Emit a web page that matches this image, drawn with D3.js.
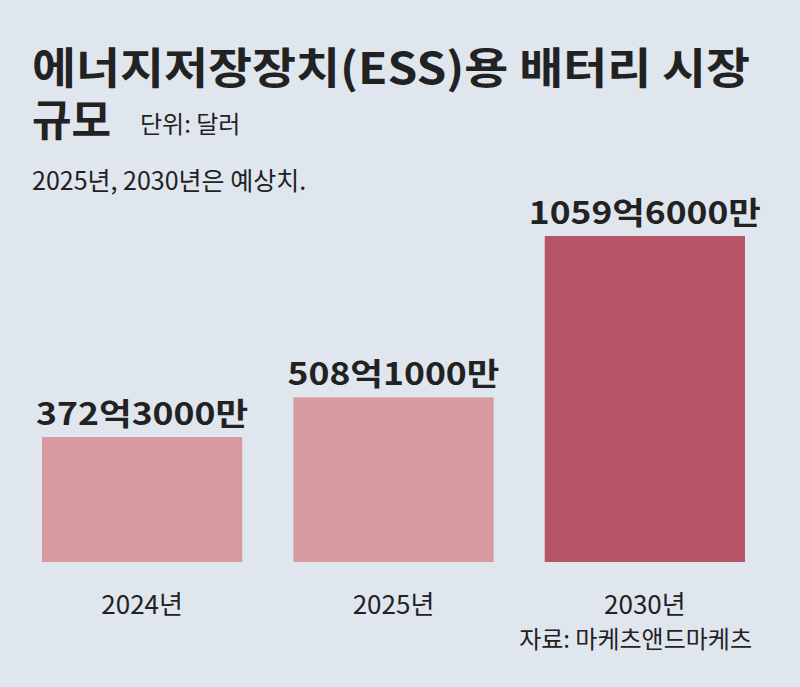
<!DOCTYPE html><html><head><meta charset="utf-8">
<script src="https://cdn.jsdelivr.net/npm/d3@7"></script>
<style>body{margin:0;background:#dfe6ee}</style></head><body><svg id="c" width="800" height="687"></svg>
<script>
const categories=["2024년","2025년","2030년"];
const values=[372.3,508.1,1059.6];
const valueLabels=["372억3000만","508억1000만","1059억6000만"];
const colors=["#d79aa1","#d79aa1","#b85468"];
const svg=d3.select("#c");
const F="'Noto Sans CJK KR',sans-serif";
svg.append("rect").attr("width",800).attr("height",687).attr("fill","#dfe6ee");
const x=d3.scaleBand().domain(categories).range([42,745]).paddingInner(0.2035).paddingOuter(0);
const y=d3.scaleLinear().domain([-55,1059.6]).range([562,236]);
const t=(s,xx,yy,sz,w,anc)=>svg.append("text").text(s).attr("x",xx).attr("y",yy).attr("font-size",sz).attr("font-weight",w).attr("font-family",F).attr("fill","#222").attr("text-anchor",anc||"start");
t("에너지저장장치(ESS)용 배터리 시장",32,84,43,700).attr("textLength",718).attr("lengthAdjust","spacingAndGlyphs");
t("규모",32,136,43,700);
t("단위: 달러",140,133,24,400);
t("2025년, 2030년은 예상치.",32,190,25,400);
svg.selectAll(".b").data(values).join("rect").attr("x",(d,i)=>x(categories[i])).attr("width",x.bandwidth())
 .attr("y",d=>y(d)).attr("height",d=>y(-55)-y(d)).attr("fill",(d,i)=>colors[i]);
values.forEach((v,i)=>{
 const lw=[212,212,232][i];
 t(valueLabels[i],x(categories[i])+x.bandwidth()/2,y(v)-12,31,700,"middle").attr("textLength",lw).attr("lengthAdjust","spacingAndGlyphs");
 t(categories[i],x(categories[i])+x.bandwidth()/2,614,26,400,"middle");
});
t("자료: 마케츠앤드마케츠",752,648,24,400,"end");
</script></body></html>
